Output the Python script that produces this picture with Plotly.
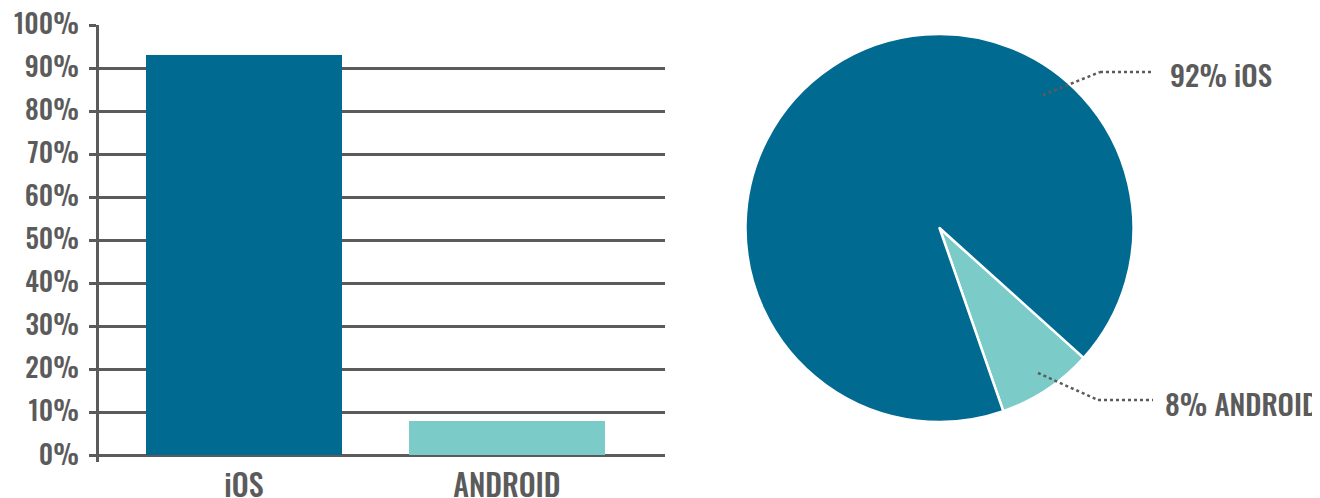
import plotly.graph_objects as go

categories = ["iOS", "ANDROID"]
bar_values = [93, 8]
pie_labels = ["ANDROID", "iOS"]
pie_values = [8, 92]
tick_vals = [0, 10, 20, 30, 40, 50, 60, 70, 80, 90, 100]
tick_text = [f"{v}%" for v in tick_vals]

DARK = "#016a91"
LIGHT = "#7bccc9"
GRAY = "#5b5b5b"
FONT = "Oswald, Roboto Condensed, sans-serif"
FW = 500

W, H = 1320, 498
OFF = 8  # page body margin


def px(x):
    return (x - OFF) / W


def py(y):
    return 1 - (y - OFF) / H


fig = go.Figure()
fig.add_trace(go.Bar(
    x=categories, y=bar_values, marker_color=[DARK, LIGHT],
    marker_line_width=0, width=0.745, showlegend=False,
))
fig.add_trace(go.Pie(
    labels=pie_labels, values=pie_values, sort=False, direction="clockwise",
    rotation=132, marker=dict(colors=[LIGHT, DARK], line=dict(color="white", width=2.5)),
    textinfo="none", showlegend=False,
    domain=dict(x=[px(745), px(1134)], y=[py(422), py(34)]),
))

fig.update_layout(
    width=W, height=H, margin=dict(l=0, r=0, t=0, b=0),
    paper_bgcolor="white", plot_bgcolor="white",
    font=dict(family=FONT, color=GRAY),
    xaxis=dict(
        domain=[px(99), px(665)], range=[-0.551, 1.601], type="category",
        showline=False, ticks="", showgrid=False, automargin=False,
        tickfont=dict(size=30, family=FONT, color=GRAY, weight=FW),
        ticklabelstandoff=4, ticklabeloverflow="allow",
    ),
    yaxis=dict(
        domain=[py(461.5), py(25)], range=[-1.5, 100], automargin=False,
        tickvals=tick_vals, ticktext=tick_text,
        showgrid=True, gridcolor=GRAY, gridwidth=2.5, zeroline=False,
        showline=True, linecolor=GRAY, linewidth=2.5,
        ticks="outside", ticklen=7, tickwidth=2.5, tickcolor=GRAY,
        tickfont=dict(size=27, family=FONT, color=GRAY, weight=FW),
        ticklabelstandoff=5, ticklabeloverflow="allow",
    ),
    bargap=0,
)

dot = dict(color=GRAY, width=2.5, dash="dot")
for pts in ([(1043, 95), (1100, 72), (1153, 72)], [(1038, 373), (1098, 400), (1153, 400)]):
    for (x0, y0), (x1, y1) in zip(pts[:-1], pts[1:]):
        fig.add_shape(type="line", xref="paper", yref="paper",
                      x0=px(x0), y0=py(y0), x1=px(x1), y1=py(y1), line=dot)

fig.add_annotation(text="92% iOS", xref="paper", yref="paper", x=px(1168), y=py(73),
                   xanchor="left", yanchor="middle", showarrow=False,
                   font=dict(size=29, family=FONT, color=GRAY, weight=FW))
fig.add_annotation(text="8% ANDROID", xref="paper", yref="paper", x=px(1163), y=py(402),
                   xanchor="left", yanchor="middle", showarrow=False,
                   font=dict(size=29, family=FONT, color=GRAY, weight=FW))

fig.write_html("out.html")
